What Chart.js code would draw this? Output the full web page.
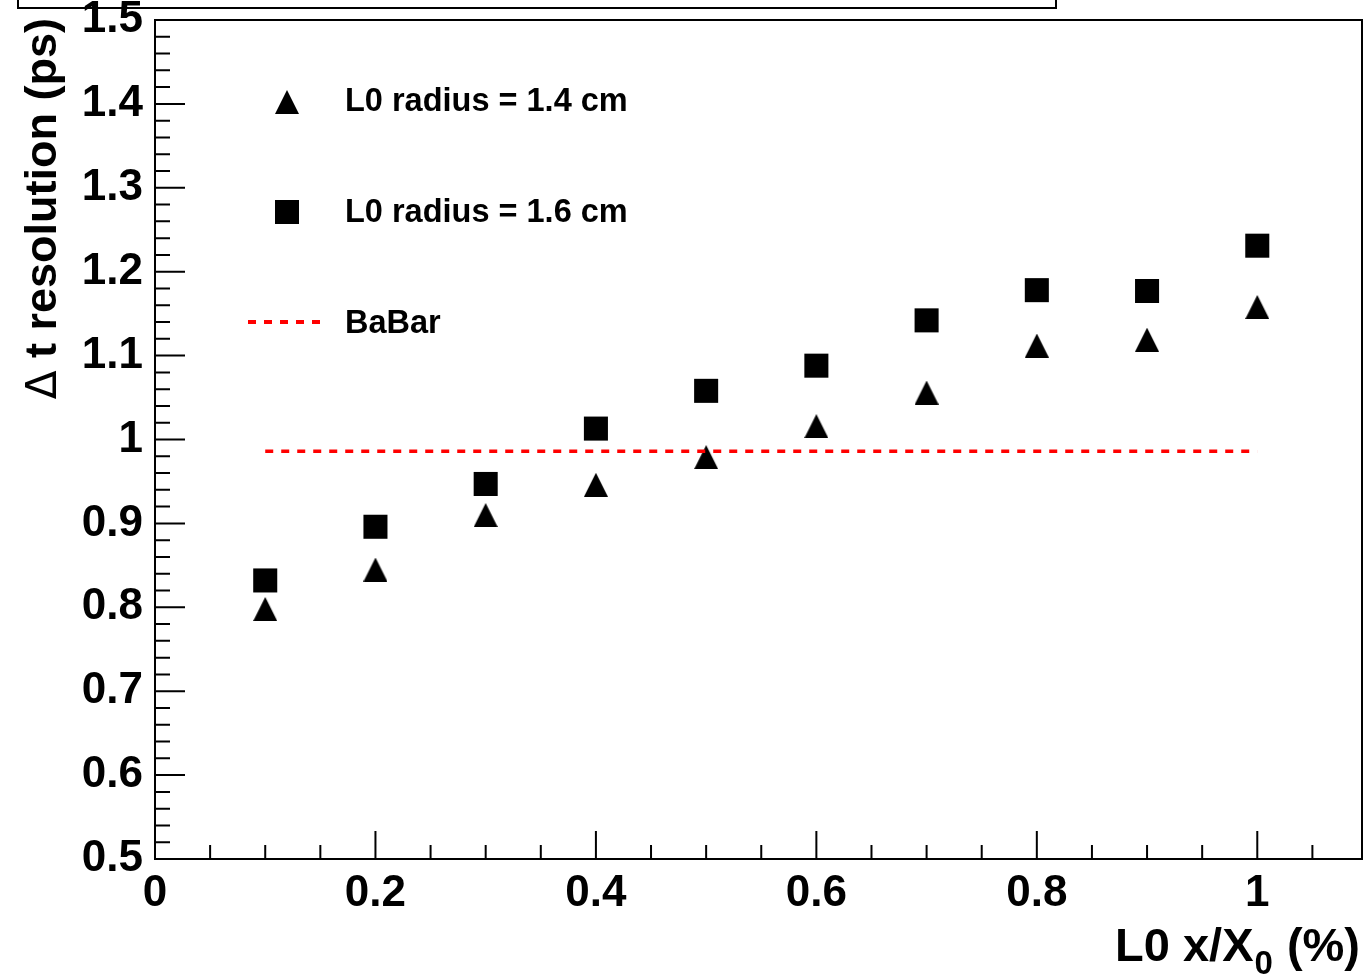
<!DOCTYPE html>
<html>
<head>
<meta charset="utf-8">
<script src="https://cdn.jsdelivr.net/npm/chart.js@4"></script>
<style>
  body { margin: 0; background: #fff; }
  #plot { display: block; }
</style>
</head>
<body>
<canvas id="plot" width="1367" height="976"></canvas>
<script>
// values
const thickness = [0.1, 0.2, 0.3, 0.4, 0.5, 0.6, 0.7, 0.8, 0.9, 1.0];
const res14 = [0.798, 0.845, 0.910, 0.946, 0.979, 1.016, 1.056, 1.112, 1.119, 1.158];
const res16 = [0.832, 0.896, 0.947, 1.013, 1.058, 1.088, 1.142, 1.178, 1.177, 1.231];
const babarX = [0.1, 1.0];
const babarY = [0.986, 0.986];
const legendLabels = ["L0 radius = 1.4 cm", "L0 radius = 1.6 cm", "BaBar"];

const FONT = "'Liberation Sans', Arial, sans-serif";

// ROOT style triangle marker (as wide as tall)
function makeTriangle(size) {
  const c = document.createElement("canvas");
  c.width = size;
  c.height = size;
  const g = c.getContext("2d");
  g.fillStyle = "#000";
  g.beginPath();
  g.moveTo(size / 2, 0);
  g.lineTo(size, size);
  g.lineTo(0, size);
  g.closePath();
  g.fill();
  return c;
}
const triangle = makeTriangle(24);

const pts = (xs, ys) => xs.map((x, i) => ({ x: x, y: ys[i] }));

const framePlugin = {
  id: "frame",
  afterDatasetsDraw(chart) {
    const ctx = chart.ctx;
    const a = chart.chartArea;
    const xs = chart.scales.x;
    const ys = chart.scales.y;
    ctx.save();
    ctx.strokeStyle = "#000";
    ctx.lineWidth = 2;
    ctx.strokeRect(a.left, a.top, a.right - a.left, a.bottom - a.top);

    // inward ticks
    ctx.beginPath();
    for (let i = 0; i <= 22; i++) {
      const v = i * 0.05;
      if (v > xs.max) break;
      const px = xs.getPixelForValue(v);
      const len = i % 4 === 0 ? 28 : 14;
      ctx.moveTo(px, a.bottom);
      ctx.lineTo(px, a.bottom - len);
    }
    for (let i = 0; i <= 50; i++) {
      const v = 0.5 + i * 0.02;
      const py = ys.getPixelForValue(v);
      const len = i % 5 === 0 ? 30 : 15;
      ctx.moveTo(a.left, py);
      ctx.lineTo(a.left + len, py);
    }
    ctx.stroke();

    // cut-off title box at the top
    ctx.strokeRect(18, -10, 1038, 18);

    // axis titles
    ctx.fillStyle = "#000";
    ctx.textBaseline = "alphabetic";
    const big = "bold 47px " + FONT;
    const sub = "bold 33px " + FONT;
    ctx.font = big;
    const p1 = "L0 x/X", p3 = " (%)";
    const w1 = ctx.measureText(p1).width;
    const w3 = ctx.measureText(p3).width;
    ctx.font = sub;
    const w2 = ctx.measureText("0").width;
    let x0 = 1360 - (w1 + w2 + 2 + w3);
    ctx.font = big;
    ctx.fillText(p1, x0, 961);
    ctx.font = sub;
    ctx.fillText("0", x0 + w1 + 1, 974);
    ctx.font = big;
    ctx.fillText(p3, x0 + w1 + w2 + 2, 961);

    ctx.save();
    ctx.translate(56, 18);
    ctx.rotate(-Math.PI / 2);
    ctx.textAlign = "right";
    ctx.font = "bold 45px " + FONT;
    const t = " t resolution (ps)";
    ctx.fillText(t, 0, 0);
    const wt = ctx.measureText(t).width;
    ctx.font = "42px 'DejaVu Sans', sans-serif";
    ctx.fillText("\u0394", -wt, 0);
    ctx.restore();

    // legend
    ctx.drawImage(triangle, 287 - 12, 90, 24, 24);
    ctx.fillRect(287 - 12, 200, 24, 24);
    ctx.strokeStyle = "#ff0000";
    ctx.lineWidth = 4;
    ctx.setLineDash([8, 8]);
    ctx.beginPath();
    ctx.moveTo(248, 322);
    ctx.lineTo(322, 322);
    ctx.stroke();
    ctx.setLineDash([]);
    ctx.font = "bold 32.5px " + FONT;
    ctx.fillText(legendLabels[0], 345, 111);
    ctx.fillText(legendLabels[1], 345, 222);
    ctx.fillText(legendLabels[2], 345, 333);
    ctx.restore();
  },
};

new Chart(document.getElementById("plot"), {
  type: "scatter",
  data: {
    datasets: [
      {
        label: "BaBar",
        type: "line",
        data: pts(babarX, babarY),
        borderColor: "#ff0000",
        borderWidth: 3.5,
        borderDash: [8, 8],
        pointRadius: 0,
        fill: false,
      },
      {
        label: legendLabels[0],
        data: pts(thickness, res14),
        pointStyle: triangle,
        pointRadius: 12,
        backgroundColor: "#000",
        borderColor: "#000",
      },
      {
        label: legendLabels[1],
        data: pts(thickness, res16),
        pointStyle: "rect",
        pointRadius: 17,
        pointBorderWidth: 0,
        backgroundColor: "#000",
        borderColor: "#000",
      },
    ],
  },
  options: {
    responsive: false,
    animation: false,
    layout: { autoPadding: false, padding: { top: 20, right: 5, left: 0, bottom: 0 } },
    plugins: {
      legend: { display: false },
      tooltip: { enabled: false },
    },
    scales: {
      x: {
        type: "linear",
        min: 0,
        max: 1.095,
        grid: { display: false, drawTicks: false },
        border: { display: false },
        ticks: {
          stepSize: 0.2,
          includeBounds: false,
          padding: 8,
          color: "#000",
          font: { family: FONT, size: 44, weight: "bold" },
          callback: (v) => {
            const r = Math.round(v * 10) / 10;
            return Math.abs(v - r) < 1e-6 && Math.round(r * 10) % 2 === 0 ? String(r) : "";
          },
        },
        afterFit: (s) => {
          s.height = 117;
          s.paddingLeft = 0;
          s.paddingRight = 0;
        },
      },
      y: {
        type: "linear",
        min: 0.5,
        max: 1.5,
        grid: { display: false, drawTicks: false },
        border: { display: false },
        ticks: {
          stepSize: 0.1,
          padding: 12,
          color: "#000",
          font: { family: FONT, size: 44, weight: "bold" },
          callback: (v) => String(Math.round(v * 10) / 10),
        },
        afterFit: (s) => {
          s.width = 155;
          s.paddingTop = 0;
          s.paddingBottom = 0;
        },
      },
    },
  },
  plugins: [framePlugin],
});
</script>
</body>
</html>
